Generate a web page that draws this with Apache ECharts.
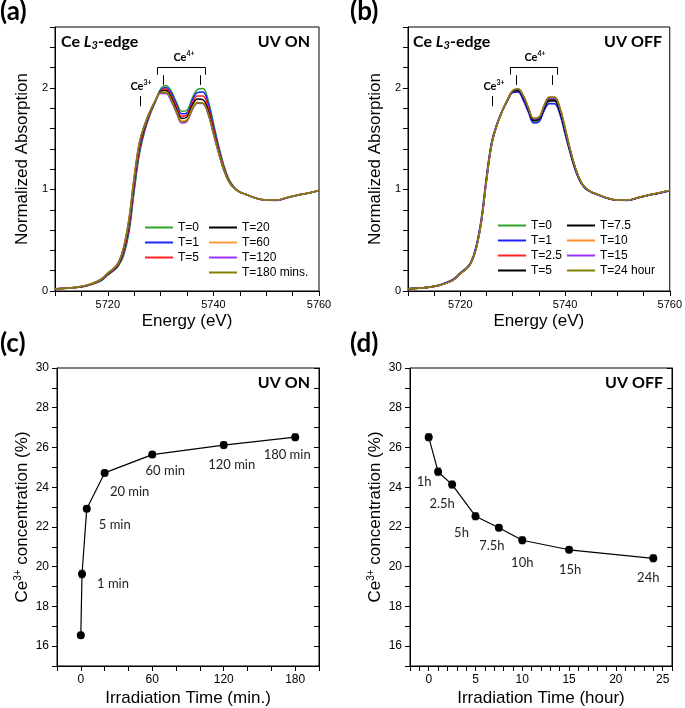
<!DOCTYPE html>
<html>
<head>
<meta charset="utf-8">
<script src="https://cdn.jsdelivr.net/npm/echarts@6/dist/echarts.min.js"></script>
<style>
  html, body { margin: 0; padding: 0; background: #fff; }
  #chart { width: 685px; height: 708px; }
</style>
</head>
<body>
<div id="chart"></div>
<script>
// energy grid (eV) shared by all spectra
const energy = [5710, 5712, 5714, 5716, 5718, 5719, 5720, 5721, 5722, 5723, 5724, 5725, 5726, 5727, 5728, 5729, 5730, 5731, 5732, 5733, 5734, 5735, 5736, 5737, 5738, 5739, 5740, 5741, 5742, 5743, 5744, 5745, 5746, 5748, 5750, 5752, 5754, 5756, 5758, 5760];

// (a) UV ON spectra
const onT0 = [0.02, 0.025, 0.033, 0.05, 0.082, 0.11, 0.155, 0.195, 0.245, 0.35, 0.57, 0.98, 1.35, 1.575, 1.735, 1.86, 1.99, 2.025, 1.97, 1.86, 1.77, 1.78, 1.90, 1.985, 1.995, 1.88, 1.655, 1.43, 1.235, 1.095, 1.02, 0.975, 0.955, 0.915, 0.895, 0.895, 0.92, 0.945, 0.965, 0.99];
const onT1 = [0.02, 0.026, 0.034, 0.052, 0.085, 0.115, 0.16, 0.20, 0.255, 0.37, 0.60, 1.01, 1.375, 1.59, 1.745, 1.865, 1.975, 2.005, 1.95, 1.84, 1.745, 1.755, 1.875, 1.955, 1.96, 1.85, 1.63, 1.41, 1.22, 1.085, 1.015, 0.975, 0.955, 0.915, 0.893, 0.892, 0.917, 0.942, 0.963, 0.99];
const onT5 = [0.02, 0.026, 0.035, 0.054, 0.088, 0.118, 0.165, 0.205, 0.26, 0.385, 0.63, 1.045, 1.40, 1.605, 1.755, 1.87, 1.97, 1.99, 1.925, 1.815, 1.72, 1.735, 1.85, 1.92, 1.92, 1.81, 1.60, 1.39, 1.21, 1.08, 1.012, 0.975, 0.955, 0.915, 0.895, 0.895, 0.92, 0.945, 0.965, 0.99];
const onT20 = [0.02, 0.027, 0.036, 0.055, 0.09, 0.12, 0.17, 0.21, 0.265, 0.40, 0.66, 1.08, 1.43, 1.62, 1.765, 1.875, 1.965, 1.975, 1.905, 1.79, 1.70, 1.715, 1.83, 1.89, 1.885, 1.775, 1.575, 1.37, 1.195, 1.075, 1.01, 0.975, 0.955, 0.915, 0.895, 0.895, 0.92, 0.945, 0.965, 0.99];
const onT60 = [0.021, 0.028, 0.037, 0.057, 0.093, 0.125, 0.175, 0.215, 0.275, 0.42, 0.69, 1.11, 1.455, 1.635, 1.77, 1.875, 1.955, 1.96, 1.885, 1.77, 1.675, 1.69, 1.80, 1.86, 1.855, 1.75, 1.555, 1.36, 1.19, 1.07, 1.008, 0.975, 0.955, 0.916, 0.896, 0.896, 0.921, 0.946, 0.966, 0.99];
const onT120 = [0.021, 0.028, 0.038, 0.058, 0.095, 0.127, 0.177, 0.218, 0.28, 0.425, 0.70, 1.12, 1.46, 1.64, 1.77, 1.87, 1.945, 1.945, 1.87, 1.755, 1.655, 1.67, 1.785, 1.85, 1.845, 1.74, 1.55, 1.355, 1.185, 1.07, 1.008, 0.975, 0.955, 0.916, 0.896, 0.896, 0.921, 0.946, 0.966, 0.99];
const onT180 = [0.021, 0.028, 0.038, 0.058, 0.096, 0.128, 0.178, 0.22, 0.282, 0.435, 0.71, 1.13, 1.47, 1.645, 1.775, 1.875, 1.955, 1.955, 1.88, 1.765, 1.665, 1.68, 1.79, 1.855, 1.85, 1.745, 1.55, 1.355, 1.185, 1.07, 1.008, 0.975, 0.955, 0.916, 0.896, 0.896, 0.921, 0.946, 0.966, 0.99];

// (b) UV OFF spectra
const offT0 = [0.021, 0.028, 0.038, 0.058, 0.095, 0.127, 0.177, 0.218, 0.28, 0.43, 0.70, 1.12, 1.465, 1.645, 1.775, 1.88, 1.96, 1.965, 1.89, 1.775, 1.67, 1.68, 1.785, 1.85, 1.845, 1.745, 1.55, 1.355, 1.185, 1.07, 1.005, 0.975, 0.955, 0.915, 0.895, 0.894, 0.919, 0.944, 0.965, 0.99];
const offT1 = [0.022, 0.029, 0.04, 0.06, 0.098, 0.13, 0.18, 0.222, 0.285, 0.44, 0.715, 1.135, 1.475, 1.65, 1.775, 1.875, 1.955, 1.96, 1.88, 1.76, 1.655, 1.665, 1.775, 1.845, 1.845, 1.745, 1.55, 1.355, 1.185, 1.068, 1.003, 0.973, 0.953, 0.913, 0.893, 0.892, 0.917, 0.942, 0.963, 0.988];
const offT2_5 = [0.02, 0.027, 0.036, 0.055, 0.09, 0.12, 0.17, 0.21, 0.27, 0.41, 0.675, 1.09, 1.445, 1.635, 1.77, 1.88, 1.97, 1.985, 1.92, 1.80, 1.695, 1.705, 1.82, 1.895, 1.895, 1.795, 1.60, 1.39, 1.21, 1.08, 1.012, 0.977, 0.957, 0.917, 0.897, 0.896, 0.921, 0.946, 0.967, 0.991];
const offT5 = [0.021, 0.028, 0.037, 0.057, 0.093, 0.124, 0.174, 0.215, 0.276, 0.42, 0.685, 1.10, 1.455, 1.64, 1.772, 1.878, 1.965, 1.975, 1.905, 1.785, 1.68, 1.69, 1.80, 1.87, 1.87, 1.77, 1.575, 1.37, 1.195, 1.074, 1.008, 0.975, 0.955, 0.915, 0.895, 0.895, 0.92, 0.945, 0.966, 0.99];
const offT7_5 = [0.021, 0.028, 0.037, 0.057, 0.093, 0.124, 0.174, 0.215, 0.276, 0.418, 0.682, 1.098, 1.452, 1.638, 1.772, 1.88, 1.968, 1.98, 1.912, 1.79, 1.685, 1.695, 1.81, 1.88, 1.88, 1.78, 1.585, 1.378, 1.20, 1.076, 1.009, 0.975, 0.955, 0.915, 0.895, 0.895, 0.92, 0.945, 0.966, 0.99];
const offT10 = [0.021, 0.028, 0.037, 0.056, 0.092, 0.123, 0.173, 0.214, 0.275, 0.415, 0.68, 1.095, 1.45, 1.638, 1.773, 1.885, 1.975, 1.99, 1.925, 1.805, 1.70, 1.71, 1.825, 1.905, 1.905, 1.805, 1.605, 1.39, 1.21, 1.08, 1.012, 0.977, 0.957, 0.917, 0.897, 0.896, 0.921, 0.946, 0.967, 0.991];
const offT15 = [0.021, 0.028, 0.037, 0.056, 0.092, 0.123, 0.173, 0.214, 0.275, 0.415, 0.68, 1.095, 1.45, 1.638, 1.773, 1.885, 1.972, 1.988, 1.922, 1.80, 1.695, 1.705, 1.82, 1.90, 1.90, 1.80, 1.60, 1.385, 1.205, 1.078, 1.01, 0.976, 0.956, 0.916, 0.896, 0.896, 0.921, 0.946, 0.966, 0.99];
const offT24 = [0.021, 0.028, 0.037, 0.056, 0.092, 0.123, 0.173, 0.214, 0.275, 0.412, 0.678, 1.093, 1.448, 1.636, 1.772, 1.885, 1.975, 1.992, 1.928, 1.808, 1.702, 1.712, 1.828, 1.91, 1.91, 1.81, 1.61, 1.392, 1.21, 1.08, 1.012, 0.977, 0.957, 0.917, 0.897, 0.896, 0.921, 0.946, 0.967, 0.991];

// (c) Ce3+ concentration, UV ON
const onTime = [0, 1, 5, 20, 60, 120, 180];
const onConc = [16.55, 19.63, 22.92, 24.72, 25.64, 26.12, 26.52];
const onErr = [0.15, 0.2, 0.15, 0.15, 0.15, 0.18, 0.18];
const onLabels = ['', '1 min', '5 min', '20 min', '60 min', '120 min', '180 min'];

// (d) Ce3+ concentration, UV OFF
const offTime = [0, 1, 2.5, 5, 7.5, 10, 15, 24];
const offConc = [26.52, 24.78, 24.13, 22.54, 21.96, 21.33, 20.85, 20.42];
const offErr = [0.18, 0.2, 0.18, 0.18, 0.15, 0.18, 0.15, 0.18];
const offLabels = ['', '1h', '2.5h', '5h', '7.5h', '10h', '15h', '24h'];

const AX_FONT = 'Liberation Sans, Arial, sans-serif';
const ANN_FONT = 'Lato, sans-serif';

const chart = echarts.init(document.getElementById('chart'));

function pairs(xs, ys) {
  return xs.map((x, i) => [x, ys[i]]);
}

function specSeries(name, values, color, idx) {
  return {
    name: name,
    type: 'line',
    xAxisIndex: idx,
    yAxisIndex: idx,
    data: pairs(energy, values),
    smooth: 0.4,
    symbol: 'none',
    lineStyle: { color: color, width: 1.5 },
    itemStyle: { color: color },
  };
}

// bracket + tick marks above the peaks
function annotLines(b0, b1, p1, p2, c3) {
  const seg = (x1, y1, x2, y2) => [{ coord: [x1, y1] }, { coord: [x2, y2] }];
  return {
    silent: true,
    symbol: ['none', 'none'],
    label: { show: false },
    lineStyle: { type: 'solid', color: '#000', width: 1 },
    data: [
      seg(b0, 2.13, b0, 2.2),
      seg(b0, 2.2, b1, 2.2),
      seg(b1, 2.2, b1, 2.13),
      seg(p1, 2.125, p1, 2.03),
      seg(p2, 2.125, p2, 2.03),
      seg(c3, 1.92, c3, 1.82),
    ],
  };
}

function errSeries(times, conc, err, idx) {
  return {
    type: 'custom',
    xAxisIndex: idx,
    yAxisIndex: idx,
    silent: true,
    z: 1,
    data: times.map((t, i) => [t, conc[i] - err[i], conc[i] + err[i]]),
    encode: { x: 0, y: [1, 2] },
    renderItem: function (params, api) {
      const top = api.coord([api.value(0), api.value(2)]);
      const bot = api.coord([api.value(0), api.value(1)]);
      const w = 3;
      const st = { stroke: '#888', lineWidth: 1 };
      return {
        type: 'group',
        children: [
          { type: 'line', shape: { x1: top[0], y1: top[1], x2: bot[0], y2: bot[1] }, style: st },
          { type: 'line', shape: { x1: top[0] - w, y1: top[1], x2: top[0] + w, y2: top[1] }, style: st },
          { type: 'line', shape: { x1: bot[0] - w, y1: bot[1], x2: bot[0] + w, y2: bot[1] }, style: st },
        ],
      };
    },
  };
}

function concSeries(times, conc, labels, offsets, idx) {
  return {
    type: 'line',
    xAxisIndex: idx,
    yAxisIndex: idx,
    z: 3,
    data: times.map((t, i) => ({
      value: [t, conc[i]],
      label: {
        show: labels[i] !== '',
        formatter: labels[i],
        position: 'inside',
        offset: offsets[i],
      },
    })),
    symbol: 'circle',
    symbolSize: 8,
    itemStyle: { color: '#000' },
    lineStyle: { color: '#000', width: 1.2 },
    label: { fontFamily: ANN_FONT, fontSize: 13, color: '#222' },
  };
}

function xAx(idx, min, max, interval, every, name, gap) {
  return {
    gridIndex: idx,
    type: 'value',
    min: min,
    max: max,
    interval: interval,
    name: name,
    nameLocation: 'middle',
    nameGap: gap,
    nameTextStyle: { fontFamily: AX_FONT, fontSize: 17, color: '#000' },
    axisLine: { show: true, onZero: false, lineStyle: { color: '#000', width: 1 } },
    axisTick: { show: true, inside: false, length: 5, lineStyle: { color: '#000', width: 1 } },
    axisLabel: {
      show: true,
      margin: 8,
      fontFamily: AX_FONT,
      fontSize: idx < 2 ? 11 : 12,
      color: '#000',
      formatter: v => (Math.abs(v / every - Math.round(v / every)) < 1e-6 ? String(v) : ''),
    },
    splitLine: { show: false },
  };
}

function yAx(idx, min, max, interval, every, name, gap, rich) {
  return {
    gridIndex: idx,
    type: 'value',
    min: min,
    max: max,
    interval: interval,
    name: name,
    nameLocation: 'middle',
    nameGap: gap,
    nameTextStyle: { fontFamily: AX_FONT, fontSize: 17, color: '#000', rich: rich || {} },
    axisLine: { show: true, onZero: false, lineStyle: { color: '#000', width: 1 } },
    axisTick: { show: true, inside: false, length: 5, lineStyle: { color: '#000', width: 1 } },
    axisLabel: {
      show: true,
      margin: idx < 2 ? 7 : 8,
      fontFamily: AX_FONT,
      fontSize: idx < 2 ? 11 : 12,
      color: '#000',
      formatter: v => (Math.abs(v / every - Math.round(v / every)) < 1e-6 ? String(Math.round(v)) : ''),
    },
    splitLine: { show: false },
  };
}

function rightAx(idx) {
  return {
    gridIndex: idx,
    type: 'value',
    position: 'right',
    min: 15,
    max: 30,
    interval: 1,
    axisLine: { show: true, onZero: false, lineStyle: { color: '#000' } },
    axisTick: { show: true, inside: true, length: 5, lineStyle: { color: '#000', width: 1 } },
    axisLabel: { show: false },
    splitLine: { show: false },
  };
}

function legendBox(left, top, names) {
  return {
    left: left,
    top: top,
    orient: 'vertical',
    icon: 'rect',
    itemWidth: 28,
    itemHeight: 2,
    itemGap: 0,
    padding: 0,
    selectedMode: false,
    textStyle: { fontFamily: AX_FONT, fontSize: 12, color: '#000', lineHeight: 15 },
    data: names,
  };
}

const superRich = { s: { fontFamily: AX_FONT, fontSize: 10, padding: [0, 0, 8, 0] } };

function edgeLabel(x, y) {
  return {
    type: 'text',
    x: x,
    y: y,
    style: {
      text: '{b|Ce }{i|L}{s|3}{b|-edge}',
      verticalAlign: 'middle',
      textVerticalAlign: 'middle',
      rich: {
        b: { fontFamily: ANN_FONT, fontWeight: 'bold', fontSize: 16, fill: '#000' },
        i: { fontFamily: ANN_FONT, fontWeight: 'bold', fontStyle: 'italic', fontSize: 16, fill: '#000' },
        s: { fontFamily: ANN_FONT, fontWeight: 'bold', fontStyle: 'italic', fontSize: 11, fill: '#000', padding: [7, 0, 0, 0] },
      },
    },
  };
}

function plainText(text, x, y, align, size) {
  return {
    type: 'text',
    x: x,
    y: y,
    style: {
      text: text,
      align: align,
      textAlign: align,
      verticalAlign: 'middle',
      textVerticalAlign: 'middle',
      fontFamily: ANN_FONT,
      fontWeight: 'bold',
      fontSize: size,
      fill: '#000',
    },
  };
}

function ionLabel(charge, x, y) {
  return {
    type: 'text',
    x: x,
    y: y,
    style: {
      text: '{b|Ce}{s|' + charge + '}',
      align: 'center',
      textAlign: 'center',
      verticalAlign: 'middle',
      textVerticalAlign: 'middle',
      rich: {
        b: { fontFamily: ANN_FONT, fontWeight: 'bold', fontSize: 11, fill: '#000' },
        s: { fontFamily: ANN_FONT, fontWeight: 'bold', fontSize: 7, fill: '#000', padding: [0, 0, 6, 0] },
      },
    },
  };
}

const seriesA = [
  specSeries('T=0', onT0, '#2ca02c', 0),
  specSeries('T=1', onT1, '#2222ff', 0),
  specSeries('T=5', onT5, '#ff2222', 0),
  specSeries('T=20', onT20, '#000000', 0),
  specSeries('T=60', onT60, '#ff9a3c', 0),
  specSeries('T=120', onT120, '#9b30ff', 0),
  specSeries('T=180 mins.', onT180, '#808000', 0),
];
seriesA[0].markLine = annotLines(5729.4, 5738.5, 5730.5, 5737.6, 5726.2);

const seriesB = [
  specSeries('T=0', offT0, '#2ca02c', 1),
  specSeries('T=1', offT1, '#2222ff', 1),
  specSeries('T=2.5', offT2_5, '#ff2222', 1),
  specSeries('T=5', offT5, '#000000', 1),
  specSeries('T=7.5', offT7_5, '#000000', 1),
  specSeries('T=10', offT10, '#ff8c2a', 1),
  specSeries('T=15', offT15, '#9b30ff', 1),
  specSeries('T=24 hour', offT24, '#808000', 1),
];
seriesB[0].markLine = annotLines(5729.5, 5738.6, 5730.6, 5737.6, 5726.1);

const onOffsets = [[0, 0], [31, 10], [28, 16], [25, 19], [13, 16], [8, 20], [-8, 18]];
const offOffsets = [[0, 0], [-14, 10], [-10, 19], [-14, 17], [-7, 18], [0, 23], [1, 20], [-5, 19]];

const option = {
  animation: false,
  backgroundColor: '#fff',
  grid: [
    { left: 55, top: 27, width: 264, height: 264, show: true, borderColor: '#000', borderWidth: 1 },
    { left: 408, top: 27, width: 263, height: 264, show: true, borderColor: '#000', borderWidth: 1 },
    { left: 57, top: 368, width: 262, height: 299, show: true, borderColor: '#000', borderWidth: 1 },
    { left: 410, top: 368, width: 262, height: 299, show: true, borderColor: '#000', borderWidth: 1 },
  ],
  xAxis: [
    xAx(0, 5710, 5760, 5, 20, 'Energy (eV)', 22),
    xAx(1, 5710, 5760, 5, 20, 'Energy (eV)', 22),
    xAx(2, -20, 200, 20, 60, 'Irradiation Time (min.)', 24),
    xAx(3, -2, 26, 1, 5, 'Irradiation Time (hour)', 24),
  ],
  yAxis: [
    yAx(0, 0, 2.6, 0.2, 1, 'Normalized Absorption', 24),
    yAx(1, 0, 2.6, 0.2, 1, 'Normalized Absorption', 24),
    yAx(2, 15, 30, 1, 2, 'Ce{s|3+} concentration (%)', 26, superRich),
    yAx(3, 15, 30, 1, 2, 'Ce{s|3+} concentration (%)', 26, superRich),
    rightAx(2),
    rightAx(3),
  ],
  legend: [
    legendBox(145, 220, ['T=0', 'T=1', 'T=5']),
    legendBox(209, 220, ['T=20', 'T=60', 'T=120', 'T=180 mins.']),
    legendBox(498, 218, ['T=0', 'T=1', 'T=2.5', { name: 'T=5', itemStyle: { color: '#000' } }]),
    legendBox(567, 218, ['T=7.5', 'T=10', 'T=15', 'T=24 hour']),
  ],
  graphic: [
    plainText('(a)', 0, 12, 'left', 26),
    plainText('(b)', 350, 12, 'left', 26),
    plainText('(c)', 0, 344, 'left', 26),
    plainText('(d)', 350, 344, 'left', 26),
    edgeLabel(61, 42),
    plainText('UV ON', 310, 42, 'right', 16),
    edgeLabel(413, 42),
    plainText('UV OFF', 662, 42, 'right', 16),
    plainText('UV ON', 310, 383, 'right', 16),
    plainText('UV OFF', 663, 383, 'right', 16),
    ionLabel('4+', 184, 57),
    ionLabel('3+', 141, 86),
    ionLabel('4+', 535, 57),
    ionLabel('3+', 494, 86),
  ],
  series: [
    ...seriesA,
    ...seriesB,
    errSeries(onTime, onConc, onErr, 2),
    concSeries(onTime, onConc, onLabels, onOffsets, 2),
    errSeries(offTime, offConc, offErr, 3),
    concSeries(offTime, offConc, offLabels, offOffsets, 3),
  ],
};

chart.setOption(option);
</script>
</body>
</html>
